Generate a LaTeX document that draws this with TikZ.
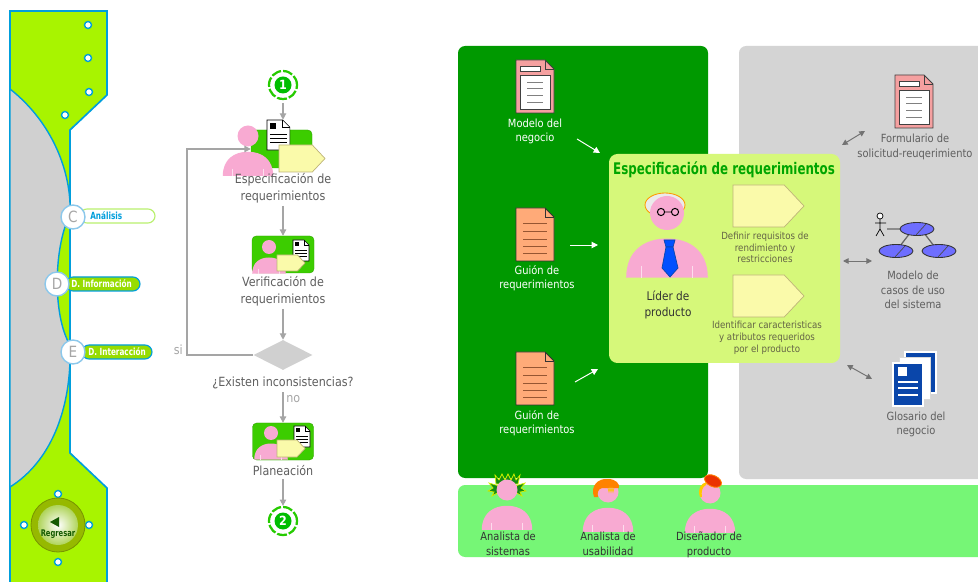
\documentclass[tikz,border=0pt]{standalone}
\usepackage{fontspec}
\setmainfont{DejaVu Sans}[FakeStretch=0.88]
\newfontfamily\angosta{DejaVu Sans}[FakeStretch=0.74]
\usetikzlibrary{arrows.meta,shapes.geometric}

\definecolor{lima}{RGB}{168,244,0}
\definecolor{cian}{RGB}{0,158,220}
\definecolor{gris}{RGB}{208,208,208}
\definecolor{grispanel}{RGB}{212,212,212}
\definecolor{verdeosc}{RGB}{0,153,0}
\definecolor{verdeact}{RGB}{60,205,0}
\definecolor{verdeclaro}{RGB}{118,246,118}
\definecolor{amarverde}{RGB}{214,248,122}
\definecolor{rosa}{RGB}{248,170,210}
\definecolor{crema}{RGB}{250,250,170}
\definecolor{bordecrema}{RGB}{190,180,120}
\definecolor{textogris}{RGB}{95,95,95}
\definecolor{textooliva}{RGB}{100,100,70}
\definecolor{flecha}{RGB}{165,165,165}
\definecolor{verdeini}{RGB}{0,190,0}
\definecolor{verdeboton}{RGB}{20,90,0}
\definecolor{olivo}{RGB}{150,185,0}
\definecolor{olivoclaro}{RGB}{175,212,90}
\definecolor{bordetab}{RGB}{185,240,110}
\definecolor{bordeletra}{RGB}{140,200,235}
\definecolor{rosadoc}{RGB}{245,160,160}
\definecolor{naranja}{RGB}{255,170,120}
\definecolor{marron}{RGB}{150,85,50}
\definecolor{azul}{RGB}{10,70,170}
\definecolor{azulcasos}{RGB}{110,110,255}
\definecolor{azultie}{RGB}{0,80,255}
\definecolor{verdetitulo}{RGB}{0,165,0}
\definecolor{pelverde}{RGB}{20,140,20}
\definecolor{pelborde}{RGB}{210,240,0}
\definecolor{pelnaranja}{RGB}{255,130,0}
\definecolor{pelamarillo}{RGB}{255,200,0}
\definecolor{pelrojo}{RGB}{235,50,0}

\newcommand\pxu{0.025cm}
% flecha amarilla de actividad: x1,y1,x2,y2
\newcommand{\pentag}[4]{%
  \filldraw[fill=crema,draw=bordecrema,line width=0.5pt]
    (#1,#2) -- ({#3-0.47*(#4-#2)},#2) -- (#3,{(#2+#4)/2})
    -- ({#3-0.47*(#4-#2)},#4) -- (#1,#4) -- cycle;}

\tikzset{
  persona/.pic={
    \fill[rosa] (0,0) circle[radius=10];
    \fill[rosa] (-24,38) .. controls (-24,22) and (-13,15) .. (0,15)
      .. controls (13,15) and (24,22) .. (24,38) -- cycle;
    \draw[white!60!rosa,line width=0.6pt] (-15,31) -- (-15,38) (15,31) -- (15,38);
  },
  hoja/.pic={
    \filldraw[fill=white,draw=black,line width=0.4pt]
      (0,0) -- (11,0) -- (16,5) -- (16,21) -- (0,21) -- cycle;
    \draw[line width=0.4pt] (11,0) -- (11,5) -- (16,5);
    \fill (2,2) rectangle (6,6);
    \foreach \y in {10,13,16} \draw[line width=0.6pt] (2,\y) -- (14,\y);
  },
  docrosa/.pic={
    \filldraw[fill=rosadoc,draw=black!75,line width=0.6pt]
      (0,0) -- (29,0) -- (38,9) -- (38,53) -- (0,53) -- cycle;
    \draw[black!75,line width=0.6pt] (29,0) -- (29,9) -- (38,9);
    \filldraw[fill=white,draw=black!75,line width=0.5pt] (4,15) rectangle (34,49);
    \filldraw[fill=white,draw=black!75,line width=0.5pt] (4,6) rectangle (24,11);
    \foreach \y in {22,28,35,42} \draw[gray,line width=0.6pt] (11,\y) -- (27,\y);
  },
  docnaranja/.pic={
    \filldraw[fill=naranja,draw=black!80,line width=0.6pt]
      (0,0) -- (29,0) -- (38,9) -- (38,53) -- (0,53) -- cycle;
    \draw[black!80,line width=0.6pt] (29,0) -- (29,9) -- (38,9);
    \foreach \y in {15,23,31,38,45} \draw[marron,line width=0.7pt] (7,\y) -- (31,\y);
  }
}

\begin{document}
\begin{tikzpicture}
  [x=0.025cm,y=-0.025cm,
   every node/.style={inner sep=0,align=center},
   flujo/.style={draw=flecha,line width=0.8pt,-{Triangle[length=4.5pt,width=4.5pt]}},
   flechab/.style={draw=white,line width=0.7pt,-{Triangle[length=4.5pt,width=4.5pt]}},
   doble/.style={draw=black!55,line width=0.7pt,
     {Triangle[length=4pt,width=4pt]}-{Triangle[length=4pt,width=4pt]}},
   etiq/.style={text=textogris,font=\fontsize{9}{12}\selectfont},
   blanco/.style={text=white,font=\fontsize{8}{10}\selectfont},
   grisetq/.style={text=textogris,font=\fontsize{8}{10.5}\selectfont},
   chica/.style={text=textooliva,font=\fontsize{7}{8.4}\selectfont},
   rol/.style={text=black!80,font=\fontsize{8}{10.6}\selectfont},
   caja/.style={rectangle,rounded corners=3pt,fill=verdeact,draw=verdeact!80!black,line width=0.3pt},
   inicio/.style={circle,minimum size=28*\pxu,draw=verdeini!80!lime,line width=1.6pt,
     dash pattern=on 7pt off 1.5pt,text=white,font=\bfseries\fontsize{9}{9}\selectfont,
     path picture={\fill[verdeini] (path picture bounding box.center) circle[radius=8.5];}},
   letra/.style={circle,minimum size=24*\pxu,fill=white,draw=bordeletra,
     line width=1pt,text=black!35,font=\fontsize{11}{11}\selectfont},
   pestana/.style={text=white,font=\angosta\bfseries\fontsize{7}{7}\selectfont,anchor=west}]

  \fill[white] (0,0) rectangle (978,582);
  \clip (0,0) rectangle (978,582);

  % barra lateral
  \filldraw[fill=lima,draw=cian,line width=1.2pt]
    (10,11) -- (107,11) -- (107,95) -- (70,130) -- (70,453) -- (107,488) -- (107,600) -- (10,600) -- cycle;
  \filldraw[fill=gris,draw=cian,line width=1pt]
    (10,89) .. controls (52,122) and (72,172) .. (70,215)
    .. controls (54,245) and (52,315) .. (70,345)
    .. controls (72,410) and (50,462) .. (10,487) -- cycle;
  \foreach \p in {(88,25),(88,58),(89,92),(65,115),(58,494),(24,525),(89,525),(58,562)}
    \filldraw[fill=white,draw=cian,line width=1pt] \p circle[radius=3.5];

  \node (regresar) [circle,minimum size=54*\pxu,fill=olivo,draw=olivo!80!black,line width=0.6pt] at (58,525) {};
  \shade[inner color=white,outer color=olivoclaro] (regresar.center) circle[radius=20];
  \fill[verdeboton] (50,522) -- (59,517) -- (59,527) -- cycle;
  \node (regtxt) [text=verdeboton,font=\angosta\bfseries\fontsize{6.5}{6.5}\selectfont] at (58,534) {Regresar};

  % pestañas
  \filldraw[fill=white,draw=bordetab,line width=0.8pt,rounded corners=5pt] (80,209) rectangle (155,223);
  \node (tabC) [pestana,text=cian] at (90,216) {Análisis};
  \node (C) [letra] at (73,217) {C};
  \filldraw[fill=lima!90!black,draw=cian,line width=0.8pt,rounded corners=5pt] (66,277) rectangle (140,291);
  \node (tabD) [pestana] at (71,284) {D. Información};
  \node (D) [letra] at (57,284) {D};
  \filldraw[fill=lima!90!black,draw=cian,line width=0.8pt,rounded corners=5pt] (82,345) rectangle (152,359);
  \node (tabE) [pestana] at (88,352) {D. Interacción};
  \node (E) [letra] at (73,352) {E};

  % flujo de actividades
  \node (ini) [inicio] at (283,85) {1};

  \node (act1) [minimum width=98*\pxu,minimum height=52*\pxu] at (283,146) {};
  \node (caja1) [caja,minimum width=61*\pxu,minimum height=38*\pxu] at (281.5,149) {};
  \pic at (267,120) [scale=1.43] {hoja};
  \pic at (248,136) [scale=1.05] {persona};
  \pentag{279}{145}{325}{172}
  \node (l1) [etiq] at (283,188) {Especificación de\\requerimientos};

  \node (act2) [caja,minimum width=62*\pxu,minimum height=37*\pxu] at (283,254.5) {};
  \pic at (293,240) {hoja};
  \pic at (269,247) [scale=0.7] {persona};
  \pentag{277}{255}{305}{271}
  \node (l2) [etiq] at (283,291) {Verificación de\\requerimientos};

  \node (dec) [diamond,fill=gris,minimum width=59*\pxu,minimum height=30*\pxu] at (283,355) {};
  \node (l3) [etiq] at (283,383) {¿Existen inconsistencias?};
  \node (no) [etiq,anchor=west,text=black!35] at (286,399) {no};

  \node (act3) [caja,minimum width=61*\pxu,minimum height=37*\pxu] at (283,441.5) {};
  \pic at (294,426) {hoja};
  \pic at (271,433) [scale=0.7] {persona};
  \pentag{277}{440}{305}{457}
  \node (l4) [etiq] at (283,471) {Planeación};

  \node (fin) [inicio] at (283,521) {2};

  \foreach \from/\to in {ini/act1,l1/act2,l2/dec,l3/act3,l4/fin}
    \draw[flujo,shorten <=2pt] (\from) -- (\to);

  \coordinate (lazo) at (187,250);
  \draw[flujo] (dec.west) -| (lazo) |- (caja1.west);
  \node (si) [etiq,text=black!35,anchor=east] at (183,350) {si};

  % paneles
  \fill[verdeosc,rounded corners=5pt] (458,46) rectangle (708,478);
  \fill[grispanel,rounded corners=5pt] (739,46) rectangle (1000,479);
  \fill[verdeclaro,rounded corners=5pt] (458,485) rectangle (1000,557);

  % entradas
  \pic at (516,60) {docrosa};
  \node (modl) [blanco] at (535,131) {Modelo del\\negocio};
  \pic at (516,208) {docnaranja};
  \node (gui1) [blanco] at (537,278) {Guión de\\requerimientos};
  \pic at (516,352) {docnaranja};
  \node (gui2) [blanco] at (537,423) {Guión de\\requerimientos};

  \coordinate (a1) at (577,139); \coordinate (b1) at (600,153);
  \coordinate (a2) at (570,245); \coordinate (b2) at (598,245);
  \coordinate (a3) at (575,382); \coordinate (b3) at (598,369);
  \foreach \from/\to in {a1/b1,a2/b2,a3/b3}
    \draw[flechab] (\from) -- (\to);

  % actividad central
  \fill[amarverde,rounded corners=6pt] (609,154) rectangle (840,363);
  \node (titulo) [text=verdetitulo,font=\angosta\bfseries\fontsize{11.4}{11.4}\selectfont] at (724,170) {Especificación de requerimientos};

  \filldraw[fill=black!8,draw=orange!80!yellow,line width=0.6pt] (665,205) ellipse[x radius=20,y radius=12];
  \pic at (667,213) [scale=1.7] {persona};
  \draw[black,line width=0.7pt] (661,212) circle[radius=3.6] (675,212) circle[radius=3.6] (664.6,212) -- (671.4,212);
  \filldraw[fill=azultie,draw=azul,line width=0.5pt] (664,240) -- (675,240) -- (673,247) -- (666,247) -- cycle;
  \filldraw[fill=azultie,draw=azul,line width=0.5pt] (666,247) -- (673,247) -- (678,268) -- (670,277) -- (662,268) -- cycle;
  \node (lider) [rol,font=\fontsize{8.5}{11.3}\selectfont] at (668,305) {Líder de\\producto};

  \pentag{733}{185}{804}{227}
  \node (def) [chica] at (765,247.5) {Definir requisitos de\\rendimiento y\\restricciones};
  \pentag{733}{275}{804}{317}
  \node (ide) [chica] at (767,337.5) {Identificar caracteristicas\\y atributos requeridos\\por el producto};

  % artefactos
  \pic at (895,75) {docrosa};
  \node (form) [grisetq] at (915,147) {Formulario de\\solicitud-reuqerimiento};

  \filldraw[fill=white,draw=black,line width=0.5pt] (880,216) circle[radius=3];
  \draw[black,line width=0.5pt] (880,219) -- (880,229) (875,223) -- (886,223)
    (880,229) -- (876,236) (880,229) -- (884,236);
  \draw[black!60,line width=0.9pt] (887,229) -- (900,229) (910,233) -- (900,246) (924,233) -- (934,246);
  \foreach \cx/\cy in {917/229,896/251,939/251} {
    \filldraw[fill=azulcasos,draw=black!80,line width=0.6pt] (\cx,\cy) ellipse[x radius=17,y radius=6.5];
    \draw[black!70,line width=0.5pt] (\cx-1,\cy+6) -- (\cx+9,\cy-5);
  }
  \node (casos) [grisetq] at (913,290) {Modelo de\\casos de uso\\del sistema};

  \filldraw[fill=azul,draw=white,line width=0.8pt] (905,352) rectangle (936,393);
  \filldraw[fill=white,draw=black!15,line width=0.4pt] (899,357) rectangle (930,399);
  \filldraw[fill=azul,draw=white,line width=0.8pt] (893,363) rectangle (923,406);
  \fill[white] (898,367) rectangle (907,376);
  \foreach \y in {382,388,395} \draw[white,line width=0.8pt] (898,\y) -- (918,\y);
  \node (glos) [grisetq] at (916,424.5) {Glosario del\\negocio};

  \coordinate (c1) at (842,145); \coordinate (d1) at (865,131);
  \coordinate (c2) at (843,261); \coordinate (d2) at (872,261);
  \coordinate (c3) at (847,365); \coordinate (d3) at (872,379);
  \foreach \from/\to in {c1/d1,c2/d2,c3/d3}
    \draw[doble] (\from) -- (\to);

  % roles
  \begin{scope}[shift={(507,490)}]
    \filldraw[fill=pelverde,draw=pelborde,line width=0.5pt]
      (-11,-6) -- (-12,-15) -- (-8,-10) -- (-5,-16) -- (-2,-10) -- (1,-16) -- (4,-10) -- (7,-16) -- (9,-10) -- (13,-15) -- (11,-6) -- cycle;
    \filldraw[fill=pelverde,draw=pelborde,line width=0.5pt]
      (-8,-4) -- (-18,-7) -- (-14,-2) -- (-19,1) -- (-13,2) -- (-15,6) -- (-8,2) -- cycle
      (8,-4) -- (18,-7) -- (14,-2) -- (19,1) -- (13,2) -- (15,6) -- (8,2) -- cycle;
  \end{scope}
  \pic at (507,490) [scale=1.05] {persona};
  \node (as) [rol] at (508,543.5) {Analista de\\sistemas};

  \pic at (608,492) [scale=1.05] {persona};
  \begin{scope}[shift={(608,492)}]
    \fill[pelnaranja] (-14,5) .. controls (-18,-6) and (-10,-14) .. (0,-13)
      .. controls (8,-13) and (12,-8) .. (11,-4) -- (-6,-4) .. controls (-10,-3) and (-11,1) .. (-10,5) -- cycle;
    \draw[pelamarillo,line width=0.5pt] (0,-4) -- (1,0) -- (2,-4) -- (3,0) -- (4,-4) -- (5,0) -- (6,-4);
  \end{scope}
  \node (au) [rol] at (608,544) {Analista de\\usabilidad};

  \pic at (710,493) [scale=1.05] {persona};
  \begin{scope}[shift={(710,493)}]
    \fill[pelamarillo] (-10,4) .. controls (-13,-4) and (-9,-10) .. (-3,-11)
      -- (-4,-8) .. controls (-8,-6) and (-9,-1) .. (-8,4) -- cycle;
    \filldraw[fill=pelrojo,draw=orange,line width=0.6pt,rotate around={-25:(3,-12)}]
      (3,-12) ellipse[x radius=9,y radius=5.5];
  \end{scope}
  \node (dp) [rol] at (709,544.5) {Diseñador de\\producto};
\end{tikzpicture}
\end{document}
